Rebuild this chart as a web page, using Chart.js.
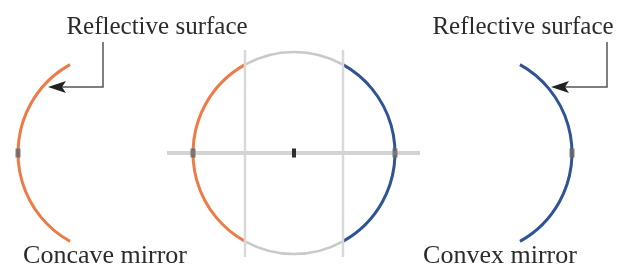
<!DOCTYPE html>
<html>
<head>
<meta charset="utf-8">
<script src="https://cdn.jsdelivr.net/npm/chart.js@4"></script>
<style>
  body { margin: 0; background: #fff; }
  canvas { display: block; }
</style>
</head>
<body>
<canvas id="mirrors" width="617" height="266"></canvas>
<script>
// labels
const captions = ["Concave mirror", "Convex mirror"];
const captionX = [105, 500];
const calloutText = "Reflective surface";
const calloutX = [157, 523];

// arcs: centre, radius, start/end angle (deg)
const arcCx = [119, 294, 294, 294, 294, 471];
const arcCy = [153, 153, 153, 153, 153, 153];
const arcR = [101, 101, 101, 101, 101, 101];
const arcFrom = [119, 119, -61, 241, 61, -61];
const arcTo = [241, 241, 61, 299, 119, 61];
const arcKind = ["concave", "concave", "convex", "circle", "circle", "convex"];

// principal axis and the two chord lines through the circle
const axisX = [167, 420];
const axisY = [153, 153];
const chordX = [245, 343];
const chordTop = 50;
const chordBottom = 257;

// vertices where axis meets the mirrors, and the centre
const vertexX = [18, 193, 395, 572];
const vertexY = [153, 153, 153, 153];
const centreX = [294];
const centreY = [153];

// callout arrows
const leftArrowX = [103, 103, 52];
const leftArrowY = [42, 87, 87];
const rightArrowX = [607, 607, 555];
const rightArrowY = [42, 87, 87];

const colours = {
  concave: "#ee7a47",
  convex: "#2f5494",
  circle: "#c9c9c9",
  text: "#2b2b2b"
};

const pts = (xs, ys) => xs.map((x, i) => ({x: x, y: ys[i]}));

const arcPlugin = {
  id: "arcs",
  beforeDatasetsDraw(chart) {
    const ctx = chart.ctx, xs = chart.scales.x, ys = chart.scales.y;
    ctx.save();
    ctx.lineCap = "butt";
    arcCx.forEach((cx, i) => {
      const px = xs.getPixelForValue(cx), py = ys.getPixelForValue(arcCy[i]);
      const rx = Math.abs(xs.getPixelForValue(cx + arcR[i]) - px);
      const ry = Math.abs(ys.getPixelForValue(arcCy[i] + arcR[i]) - py);
      ctx.beginPath();
      ctx.ellipse(px, py, rx, ry, 0, arcFrom[i] * Math.PI / 180, arcTo[i] * Math.PI / 180);
      ctx.strokeStyle = colours[arcKind[i]];
      ctx.lineWidth = arcKind[i] === "circle" ? 2.5 : 3;
      ctx.stroke();
    });
    ctx.restore();
  }
};

const labelPlugin = {
  id: "labels",
  afterDraw(chart) {
    const ctx = chart.ctx, xs = chart.scales.x, ys = chart.scales.y;
    ctx.save();
    ctx.fillStyle = colours.text;
    ctx.textAlign = "center";
    ctx.textBaseline = "alphabetic";
    ctx.font = '25px "Liberation Serif", "DejaVu Serif", serif';
    calloutX.forEach(x => ctx.fillText(calloutText, xs.getPixelForValue(x), ys.getPixelForValue(34)));
    ctx.font = '26px "Liberation Serif", "DejaVu Serif", serif';
    captions.forEach((t, i) => ctx.fillText(t, xs.getPixelForValue(captionX[i]), ys.getPixelForValue(263)));
    // arrow heads at the end of each callout
    [[leftArrowX, leftArrowY], [rightArrowX, rightArrowY]].forEach(([ax, ay]) => {
      const n = ax.length - 1;
      const tx = xs.getPixelForValue(ax[n]), ty = ys.getPixelForValue(ay[n]);
      ctx.beginPath();
      ctx.moveTo(tx - 4, ty);
      ctx.lineTo(tx + 14, ty - 6);
      ctx.lineTo(tx + 10, ty);
      ctx.lineTo(tx + 14, ty + 6);
      ctx.closePath();
      ctx.fillStyle = "#222";
      ctx.fill();
    });
    ctx.restore();
  }
};

const lineSet = (data, colour, width) => ({
  data: data, showLine: true, borderColor: colour, borderWidth: width,
  pointRadius: 0, fill: false, tension: 0, order: 2
});

new Chart(document.getElementById("mirrors"), {
  type: "scatter",
  data: {
    datasets: [
      lineSet(pts(axisX, axisY), "#d4d4d4", 4),
      lineSet(pts([chordX[0], chordX[0]], [chordTop, chordBottom]), "#d9d9d9", 2.5),
      lineSet(pts([chordX[1], chordX[1]], [chordTop, chordBottom]), "#d9d9d9", 2.5),
      lineSet(pts(leftArrowX, leftArrowY), "#555", 1.5),
      lineSet(pts(rightArrowX, rightArrowY), "#555", 1.5),
      {
        data: pts(vertexX, vertexY), pointStyle: "line", rotation: 90, order: 1,
        pointRadius: 4.5, borderColor: "rgba(105,105,105,0.85)", borderWidth: 5
      },
      {
        data: pts(centreX, centreY), pointStyle: "line", rotation: 90, order: 0,
        pointRadius: 4.5, borderColor: "#2e2e2e", borderWidth: 4
      }
    ]
  },
  options: {
    responsive: false,
    animation: false,
    devicePixelRatio: 1,
    layout: { padding: 0, autoPadding: false },
    plugins: { legend: { display: false }, tooltip: { enabled: false } },
    events: [],
    scales: {
      x: { type: "linear", min: 0, max: 617, display: false },
      y: { type: "linear", min: 0, max: 266, reverse: true, display: false }
    }
  },
  plugins: [arcPlugin, labelPlugin]
});
</script>
</body>
</html>
